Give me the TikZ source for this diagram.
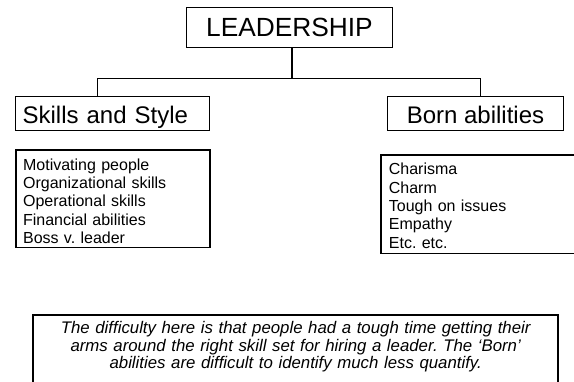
\documentclass[tikz,border=0pt]{standalone}
\usepackage{fontspec}
\setmainfont{Liberation Sans}
\frenchspacing
\begin{document}
\begin{tikzpicture}[x=1pt,y=1pt,
  thinbox/.style={draw, line width=0.9pt, rectangle, inner ysep=0pt, anchor=north west},
  thickbox/.style={draw, line width=1.8pt, rectangle, inner ysep=0pt, anchor=north west, align=left},
  conn/.style={line width=1.2pt},
  listfont/.style={font=\fontsize{16}{18.3}\selectfont}
]
\useasboundingbox (0,0) rectangle (574,381);

\node[thinbox, minimum width=206.6pt, minimum height=39.4pt, text height=28.7pt, text depth=10.7pt,
  font=\fontsize{26.3}{30}\selectfont] (lead) at (185.7,373.7) {LEADERSHIP};

\node[thinbox, minimum width=194.6pt, minimum height=34pt, text height=27.3pt, text depth=6.7pt,
  inner xsep=7.5pt, text width=179.6pt, align=left,
  font=\fontsize{24}{28}\selectfont] (skills) at (14.7,285) {Skills and Style};

\node[thinbox, minimum width=176.6pt, minimum height=34pt, text height=26.7pt, text depth=7.3pt,
  font=\fontsize{24}{28}\selectfont] (born) at (386.7,285) {Born abilities};

\coordinate (j) at (292,302.7);
\coordinate (jl) at (97.7,302.7);
\coordinate (jr) at (480.7,302.7);
\draw[conn] (lead.south -| j) -- (j);
\draw[conn] (jl) -- (jr);
\draw[conn] (jl) -- (jl |- skills.north);
\draw[conn] (jr) -- (jr |- born.north);

\node[thickbox, listfont, inner xsep=7.5pt, text width=179.6pt] (skilllist) at (14.7,232)
  {\rule{0pt}{20.3pt}Motivating people\\
   Organizational skills\\
   Operational skills\\
   Financial abilities\\
   Boss v. leader\rule[-4.2pt]{0pt}{4.2pt}};

\node[thickbox, listfont, inner xsep=8pt, text width=184pt] (bornlist) at (380,226.7)
  {\rule{0pt}{19.7pt}Charisma\\
   Charm\\
   Tough on issues\\
   Empathy\\
   Etc. etc.\rule[-5.5pt]{0pt}{5.5pt}};

\node[thickbox, align=center, inner xsep=10pt, text width=505pt,
  font=\itshape\fontsize{16.8}{17.5}\selectfont] (note) at (32.3,67)
  {\rule{0pt}{19pt}The difficulty here is that people had a tough time getting their\\
   arms around the right skill set for hiring a leader. The ‘Born’\\
   abilities are difficult to identify much less quantify.\rule[-26pt]{0pt}{26pt}};
\end{tikzpicture}
\end{document}
